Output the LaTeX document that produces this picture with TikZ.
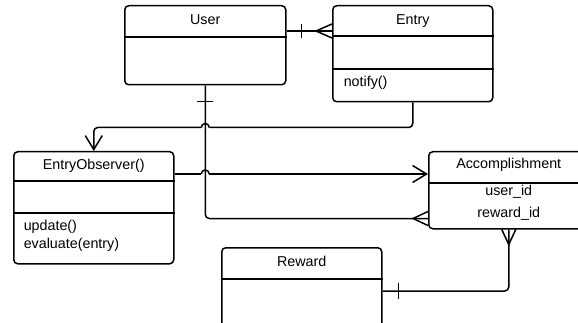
\documentclass[tikz,border=0pt]{standalone}
\usepackage{fontspec}
\setmainfont{Liberation Sans}
\usetikzlibrary{calc}
\usetikzlibrary{positioning}
\usetikzlibrary{arrows.meta}

\tikzset{
  classbox/.style={draw, rounded corners=4pt, anchor=north west,
    inner sep=0pt, minimum width=160pt},
  title/.style={anchor=base, inner sep=0pt},
  member/.style={anchor=base west, inner sep=0pt},
}

\begin{document}
\begin{tikzpicture}[%
  >={Straight Barb[length=14pt,width=17pt]},
  x=1pt, y=-1pt,
  line width=1.5pt,
  font=\fontsize{14.3}{17}\selectfont
]

  \useasboundingbox (0,0) rectangle (578,323);
  \clip (0,0) rectangle (578,323);

  % class boxes
  \node[classbox, minimum width=161pt, minimum height=79pt] (user) at (124,5) {};
  \node[classbox, minimum height=96pt] (entry) at (332,5) {};
  \node[classbox, minimum height=112pt] (observer) at (13,151) {};
  \node[classbox, minimum height=77pt] (accomp) at (428,151) {};
  \node[classbox, minimum height=100pt] (reward) at (221,247) {};

  \foreach \cls/\off in {user/32, entry/31, entry/64, observer/30,
                         observer/62, accomp/32, reward/32}
    \draw ($(\cls.north west)+(0,\off)$) -- ($(\cls.north east)+(0,\off)$);

  % texts
  \node[title] (userName) at ($(user.north)+(0,20)$) {User};
  \node[title] (entryName) at ($(entry.north)+(0,20)$) {Entry};
  \node[member] (entryNotify) at ($(entry.north west)+(11,82)$) {notify()};
  \node[title] (observerName) at ($(observer.north)+(0,19)$) {EntryObserver()};
  \node[member] (observerUpdate) at ($(observer.north west)+(10,79)$) {update()};
  \node[member] (observerEvaluate) at ($(observer.north west)+(10,97)$) {evaluate(entry)};
  \node[title] (accName) at ($(accomp.north)+(0,18)$) {Accomplishment};
  \node[title] (accUser) at ($(accomp.north)+(0,45)$) {user\_id};
  \node[title] (accReward) at ($(accomp.north)+(0,67)$) {reward\_id};
  \node[title] (rewardName) at ($(reward.north)+(0,19)$) {Reward};

  % User -- Entry
  \coordinate (userR) at ($(user.north east)+(0,26)$);
  \coordinate (entryL) at ($(entry.north west)+(0,26)$);
  \draw (userR) -- (entryL);
  \draw ($(userR)+(15,-7)$) -- ($(userR)+(15,7)$);
  \draw ($(entryL)+(0,-7)$) -- ($(entryL)+(-16,0)$) -- ($(entryL)+(0,7)$);

  % User -- Accomplishment
  \coordinate (accL) at ($(accomp.south west)+(0,-11)$);
  \draw[rounded corners=4pt] (user.south) -- (user.south |- accL) -- (accL);
  \draw ($(user.south)+(-8,16)$) -- ($(user.south)+(8,16)$);
  \draw ($(accL)+(0,-7)$) -- ($(accL)+(-15,0)$) -- ($(accL)+(0,7)$);

  % Entry -> EntryObserver
  \coordinate (bendE) at ($(entry.south)+(0,25)$);
  \coordinate (hopR) at ($(bendE -| user.south)+(4,0)$);
  \coordinate (hopL) at ($(bendE -| user.south)+(-4,0)$);
  \draw[rounded corners=4pt] (entry.south) -- (bendE) -- (hopR);
  \draw (hopR) arc[start angle=0, end angle=-180, radius=4];
  \draw[->, rounded corners=4pt] (hopL) -- (bendE -| observer.north) -- (observer.north);

  % EntryObserver -> Accomplishment
  \coordinate (obsR) at ($(observer.north east)+(0,23)$);
  \coordinate (hopA) at ($(obsR -| user.south)+(-4,0)$);
  \coordinate (hopB) at ($(obsR -| user.south)+(4,0)$);
  \draw (obsR) -- (hopA);
  \draw (hopA) arc[start angle=180, end angle=360, radius=4];
  \draw[->] (hopB) -- (obsR -| accomp.west);

  % Accomplishment -- Reward
  \coordinate (rewR) at ($(reward.north east)+(0,44)$);
  \draw[rounded corners=4pt] (accomp.south) -- (accomp.south |- rewR) -- (rewR);
  \draw ($(accomp.south)+(-7,0)$) -- ($(accomp.south)+(0,15)$) -- ($(accomp.south)+(7,0)$);
  \draw ($(rewR)+(16,-8)$) -- ($(rewR)+(16,8)$);

\end{tikzpicture}
\end{document}
